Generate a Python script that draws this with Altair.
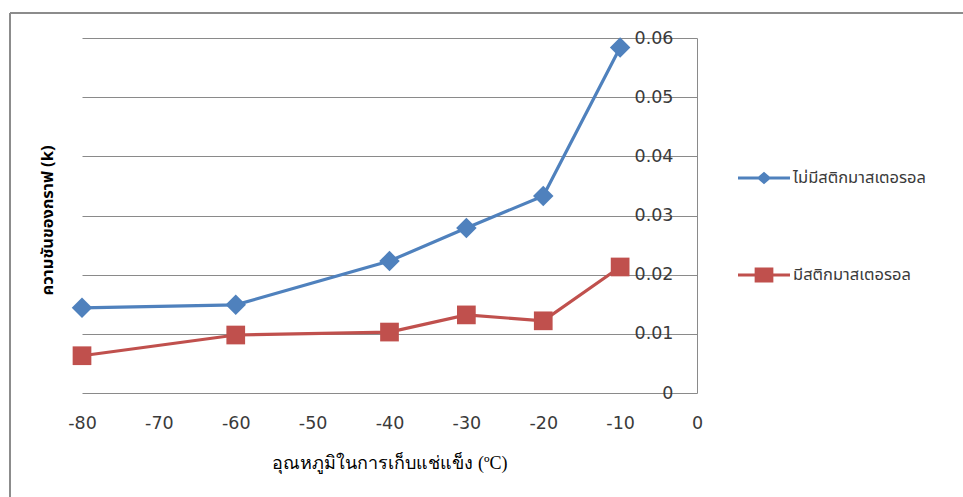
import altair as alt
import pandas as pd

# Freezing temperature (°C) and slope k for each treatment
temps = [-80, -60, -40, -30, -20, -10]
k_without = [0.0144, 0.0149, 0.0223, 0.0279, 0.0333, 0.0584]
k_with = [0.0063, 0.0098, 0.0103, 0.0132, 0.0122, 0.0213]

series_names = ["ไม่มีสติกมาสเตอรอล", "มีสติกมาสเตอรอล"]
series_colors = ["#4F81BD", "#C0504D"]

x_ticks = [-80, -70, -60, -50, -40, -30, -20, -10, 0]
y_ticks = [0, 0.01, 0.02, 0.03, 0.04, 0.05, 0.06]

x_title = "อุณหภูมิในการเก็บแช่แข็ง (ºC)"
y_title = "ความชันของกราฟ (k)"

rows = []
for t, a, b in zip(temps, k_without, k_with):
    rows.append({"temp": t, "k": a, "series": series_names[0]})
    rows.append({"temp": t, "k": b, "series": series_names[1]})
df = pd.DataFrame(rows)

PLOT_W, PLOT_H = 615, 355
PAD_L, PAD_T = 82, 38
GRID = "#8a8a8a"
TEXT = "#3a3a3a"
THAI = "Tahoma, 'Noto Sans Thai', 'Noto Sans', sans-serif"

x_enc = alt.X(
    "temp:Q",
    scale=alt.Scale(domain=[-80, 0], nice=False, zero=False),
    axis=alt.Axis(
        values=x_ticks, labelExpr="'' + datum.value", title=x_title,
        grid=False, ticks=False, domain=False, labelFlush=False, labelOverlap=False,
        labelFont="DejaVu Sans", labelFontSize=17.5, labelColor=TEXT, labelPadding=21,
        titleFont="'Liberation Serif', serif", titleFontSize=18, titleFontWeight="normal",
        titleColor="#000000", titleY=70, titleBaseline="middle",
    ),
)
y_enc = alt.Y(
    "k:Q",
    scale=alt.Scale(domain=[0, 0.06], nice=False),
    axis=alt.Axis(
        values=y_ticks, format=".2~f", orient="left", offset=-PLOT_W,
        title=y_title, grid=True, gridColor=GRID, gridWidth=1, gridOpacity=1,
        ticks=False, domain=True, domainColor=GRID, domainWidth=1,
        labelFlush=False, labelOverlap=False,
        labelFont="DejaVu Sans", labelFontSize=17.5, labelColor=TEXT, labelPadding=24,
        titleFont=THAI, titleFontSize=16.5, titleFontWeight="bold", titleColor="#000000",
        titleX=-650, titleY=182, titleAngle=-90, titleBaseline="middle", titleAlign="center",
    ),
)

# Legend glyphs: a line segment with the series marker on it
diamond_glyph = "M-1,-0.058H1V0.058H-1Z M0,-0.24L0.28,0L0,0.24L-0.28,0Z"
square_glyph = "M-1,-0.058H1V0.058H-1Z M-0.36,-0.29H0.36V0.29H-0.36Z"

legend = alt.Legend(
    title=None, orient="none", legendX=656, legendY=114, padding=0,
    rowPadding=62, labelOffset=3, labelFont=THAI, labelFontSize=16.5,
    labelColor=TEXT, symbolSize=2704, symbolStrokeWidth=0,
)
color_enc = alt.Color(
    "series:N", scale=alt.Scale(domain=series_names, range=series_colors), legend=legend
)
shape_enc = alt.Shape(
    "series:N",
    scale=alt.Scale(domain=series_names, range=[diamond_glyph, square_glyph]),
    legend=legend,
)

lines = alt.Chart(df).mark_line(strokeWidth=3.2).encode(
    x=x_enc, y=y_enc, color=color_enc, detail="series:N",
)

diamonds = alt.Chart(df).transform_filter(
    alt.datum.series == series_names[0]
).mark_point(shape="diamond", filled=True, size=420, opacity=1).encode(
    x=x_enc, y=y_enc, color=color_enc,
)

squares = alt.Chart(df).transform_filter(
    alt.datum.series == series_names[1]
).mark_square(size=350, opacity=1).encode(
    x=x_enc, y=y_enc, color=color_enc,
)

legend_layer = alt.Chart(df).transform_filter("false").mark_point(
    filled=True, size=2704, opacity=1
).encode(
    x=x_enc, y=y_enc, color=color_enc, shape=shape_enc,
)

# Outer frame around the chart (top and left edges)
frame_df = pd.DataFrame({"f": [0]})
frame_top = alt.Chart(frame_df).mark_rule(color="#8c8c8c", strokeWidth=2).encode(
    x=alt.value(10 - PAD_L), x2=alt.value(963 - PAD_L), y=alt.value(13 - PAD_T)
)
frame_left = alt.Chart(frame_df).mark_rule(color="#8c8c8c", strokeWidth=2).encode(
    x=alt.value(10 - PAD_L), y=alt.value(13 - PAD_T), y2=alt.value(497 - PAD_T)
)

chart = alt.layer(
    frame_top, frame_left, lines, diamonds, squares, legend_layer
).properties(
    width=PLOT_W, height=PLOT_H,
    autosize=alt.AutoSizeParams(type="none"),
    padding={"left": PAD_L, "top": PAD_T, "right": 963 - PAD_L - PLOT_W, "bottom": 497 - PAD_T - PLOT_H},
    background="#ffffff",
).configure_view(stroke=None)

chart.save("out.html", embed_options={"renderer": "svg", "actions": False})
